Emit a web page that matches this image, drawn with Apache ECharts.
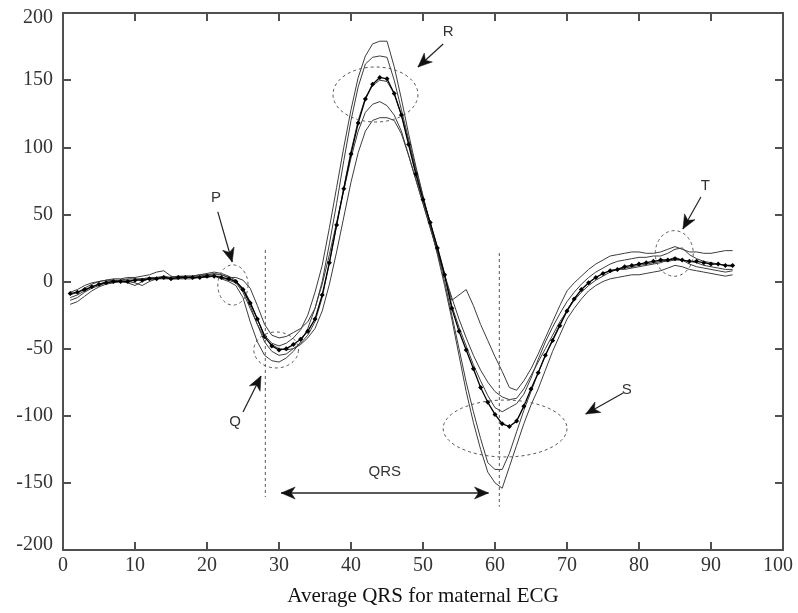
<!DOCTYPE html>
<html><head><meta charset="utf-8">
<script src="https://cdn.jsdelivr.net/npm/echarts@6/dist/echarts.min.js"></script>
<style>html,body{margin:0;padding:0;background:#fff}#c{width:798px;height:613px}</style>
</head><body><div id="c"></div>
<script>
// sample positions (x axis)
const xs = [1,2,3,4,5,6,7,8,9,10,11,12,13,14,15,16,17,18,19,20,21,22,23,24,25,26,27,28,29,30,
31,32,33,34,35,36,37,38,39,40,41,42,43,44,45,46,47,48,49,50,51,52,53,54,55,56,57,58,59,60,
61,62,63,64,65,66,67,68,69,70,71,72,73,74,75,76,77,78,79,80,81,82,83,84,85,86,87,88,89,90,91,92,93];

// average (black line with markers)
const mean = [
-9,-8,-6,-4,-2,-1,0,0,0,1,
1,2,2,3,2,3,3,3,3,4,
4,3,2,0,-6,-16,-28,-41,-48,-51,
-50,-47,-43,-37,-28,-10,14,42,69,95,
118,136,147,152,151,140,124,102,80,61,
44,25,5,-20,-37,-51,-65,-79,-90,-99,
-106,-108,-104,-93,-80,-68,-55,-44,-33,-22,
-13,-6,-1,3,6,8,9,11,12,13,
14,15,16,16,17,16,15,15,14,13,
13,12,12];

const beat1 = [
-12,-10,-7,-4,-2,0,1,1,2,2,
2,3,3,3,3,4,4,4,5,5,
6,5,3,0,-5,-15,-28,-40,-46,-48,
-46,-42,-36,-25,-8,12,40,70,100,128,
152,168,177,179,179,160,136,110,86,64,
43,22,0,-25,-50,-75,-97,-117,-135,-140,
-140,-128,-112,-96,-82,-68,-55,-43,-32,-21,
-13,-6,-1,3,6,8,9,9,10,11,
12,13,14,16,18,16,13,11,10,9,
8,7,8];

const beat2 = [
-17,-15,-11,-7,-4,-2,-1,0,0,-1,
-3,0,2,3,2,2,3,3,3,4,
4,2,0,-3,-12,-30,-45,-55,-59,-60,
-57,-52,-45,-35,-20,0,28,58,90,120,
145,162,167,168,167,150,128,106,84,63,
42,20,-3,-28,-55,-82,-105,-125,-142,-150,
-154,-138,-122,-106,-92,-80,-66,-52,-40,-28,
-20,-13,-7,-3,0,2,3,4,5,5,
6,7,8,10,12,11,9,8,7,6,
5,4,5];

const beat3 = [
-8,-6,-3,-1,0,1,2,2,3,3,
4,5,7,8,4,3,4,4,5,6,
7,6,4,1,-6,-18,-32,-45,-52,-55,
-54,-50,-46,-40,-30,-12,14,42,70,97,
120,137,146,150,149,140,124,104,82,62,
44,26,6,-18,-34,-48,-62,-74,-85,-94,
-97,-94,-91,-84,-72,-58,-45,-34,-24,-15,
-8,-2,3,7,10,13,15,16,17,18,
18,19,19,21,24,25,20,17,15,14,
13,12,11];

const beat4 = [
-10,-8,-5,-2,0,1,1,0,-1,-3,
0,2,3,4,3,4,3,3,4,5,
5,5,3,3,1,-5,-18,-32,-40,-42,
-41,-38,-35,-30,-20,-2,20,44,68,92,
112,126,132,134,131,124,112,94,76,58,
40,22,4,-14,-10,-6,-18,-32,-44,-56,
-67,-79,-81,-74,-65,-54,-42,-30,-18,-7,
-1,4,9,13,16,19,20,21,22,22,
21,21,22,24,26,24,22,22,21,21,
22,23,23];

const beat5 = [
-14,-12,-8,-5,-3,-1,0,1,1,1,
2,2,2,2,2,2,2,2,3,3,
4,3,1,-1,-8,-20,-32,-42,-47,-50,
-51,-50,-47,-42,-35,-22,-2,22,48,74,
96,112,120,122,122,120,110,94,76,58,
40,22,5,-12,-28,-42,-55,-66,-75,-82,
-86,-88,-87,-80,-70,-60,-50,-40,-30,-22,
-14,-8,-3,1,4,7,9,10,11,12,
13,14,15,15,16,16,15,14,12,11,
10,9,9];

const beats = [beat1, beat2, beat3, beat4, beat5];
const xTicks = {min:0, max:100, interval:10};
const yTicks = {min:-200, max:200, interval:50};
const xTitle = 'Average QRS for maternal ECG';

// annotation geometry (data coordinates)
const ellipses = [
  {c:[23.6,-2.6], r:[2.1,15]},
  {c:[29.6,-51], r:[3.1,13.4]},
  {c:[43.4,139.3], r:[5.9,20.5]},
  {c:[84.9,20.9], r:[2.64,17]},
  {c:[61.4,-109.5], r:[8.6,21.2]}
];
const labels = [
  {t:'P', p:[21.25,62.2]}, {t:'Q', p:[23.9,-104.7]}, {t:'R', p:[53.5,185.8]},
  {t:'T', p:[89.2,71.1]}, {t:'S', p:[78.3,-80.8]}, {t:'QRS', p:[44.7,-141.9]}
];
const arrows = [
  {f:[21.5,51.8], t:[23.5,14.5]},
  {f:[25,-97.2], t:[27.5,-70.4]},
  {f:[52.8,176.9], t:[49.3,159.8]},
  {f:[88.6,62.9], t:[86.1,39.1]},
  {f:[77.8,-83.1], t:[72.6,-98.7]}
];
const vlines = [{x:28.1, y:[23.5,-160.5]}, {x:60.6, y:[21.2,-167.7]}];
const qrsSpan = {y:-157.5, x:[30.3,59.1]};

const chart = echarts.init(document.getElementById('c'));
const serif = '"Liberation Serif", "Times New Roman", serif';
const fs = 20;
const frame = {color:'#505050', width:2};
const series = beats.map((b,k)=>({
  type:'line', name:'beat'+(k+1), data: xs.map((x,i)=>[x,b[i]]),
  showSymbol:false, symbol:'none', lineStyle:{color:'#3c3c3c', width:1}, z:2
}));
series.push({
  type:'line', name:'mean', data: xs.map((x,i)=>[x,mean[i]]),
  symbol:'diamond', symbolSize:5, showSymbol:true,
  itemStyle:{color:'#000'}, lineStyle:{color:'#000', width:1.3}, z:3
});
const lab = {fontFamily:serif, fontSize:fs, color:'#333'};
chart.setOption({
  animation:false,
  grid:{left:63, right:15, top:13, bottom:63, containLabel:false, outerBoundsMode:'none'},
  xAxis:[{
    type:'value', min:xTicks.min, max:xTicks.max, interval:xTicks.interval,
    name:xTitle, nameLocation:'middle', nameGap:36,
    nameTextStyle:{fontFamily:serif, fontSize:21, color:'#111'},
    axisLine:{show:true, onZero:false, lineStyle:frame},
    axisTick:{show:true, inside:true, length:8, lineStyle:frame},
    axisLabel:Object.assign({margin:6,
      formatter:v=> v===xTicks.max ? '{e|'+v+'}' : String(v),
      rich:{e:Object.assign({padding:[0,10,0,0]}, lab)}}, lab),
    splitLine:{show:false}
  },{
    type:'value', position:'top', min:xTicks.min, max:xTicks.max, interval:xTicks.interval,
    axisLine:{show:true, onZero:false, lineStyle:frame},
    axisTick:{show:true, inside:true, length:8, lineStyle:frame},
    axisLabel:{show:false}, splitLine:{show:false}
  }],
  yAxis:[{
    type:'value', min:yTicks.min, max:yTicks.max, interval:yTicks.interval,
    axisLine:{show:true, onZero:false, lineStyle:frame},
    axisTick:{show:true, inside:true, length:8, lineStyle:frame},
    axisLabel:Object.assign({margin:10,
      formatter:v=> v===yTicks.max ? '{t|'+v+'}' : (v===yTicks.min ? '{b|'+v+'}' : String(v)),
      rich:{t:Object.assign({padding:[10,0,0,0]}, lab), b:Object.assign({padding:[0,0,10,0]}, lab)}}, lab),
    splitLine:{show:false}
  },{
    type:'value', position:'right', min:yTicks.min, max:yTicks.max, interval:yTicks.interval,
    axisLine:{show:true, onZero:false, lineStyle:frame},
    axisTick:{show:true, inside:true, length:8, lineStyle:frame},
    axisLabel:{show:false}, splitLine:{show:false}
  }],
  series: series
});

function P(p){ return chart.convertToPixel({xAxisIndex:0, yAxisIndex:0}, p); }
const g = [];
ellipses.forEach(e=>{
  const c = P(e.c), ex = P([e.c[0]+e.r[0], e.c[1]]), ey = P([e.c[0], e.c[1]+e.r[1]]);
  const rx = Math.abs(ex[0]-c[0]), ry = Math.abs(ey[1]-c[1]);
  const pts = [];
  for (let k=0;k<72;k++){ const a = k/72*Math.PI*2; pts.push([c[0]+rx*Math.cos(a), c[1]+ry*Math.sin(a)]); }
  g.push({type:'polygon', shape:{points:pts}, style:{stroke:'#555', lineWidth:1, lineDash:[3,3], fill:'none'}, z:10, silent:true});
});
vlines.forEach(v=>{
  const a = P([v.x, v.y[0]]), b = P([v.x, v.y[1]]);
  g.push({type:'line', shape:{x1:a[0], y1:a[1], x2:b[0], y2:b[1]}, style:{stroke:'#555', lineWidth:1, lineDash:[3,3]}, z:10, silent:true});
});
function head(tip, from){
  const dx = tip[0]-from[0], dy = tip[1]-from[1], L = Math.hypot(dx,dy);
  const ux = dx/L, uy = dy/L, nx = -uy, ny = ux;
  const len = 14, w = 6, notch = 10;
  return {type:'polygon', shape:{points:[
    [tip[0], tip[1]],
    [tip[0]-ux*len+nx*w, tip[1]-uy*len+ny*w],
    [tip[0]-ux*notch, tip[1]-uy*notch],
    [tip[0]-ux*len-nx*w, tip[1]-uy*len-ny*w]
  ]}, style:{fill:'#111', stroke:'#111', lineWidth:0.5}, z:11, silent:true};
}
arrows.forEach(a=>{
  const f = P(a.f), t = P(a.t);
  g.push({type:'line', shape:{x1:f[0], y1:f[1], x2:t[0], y2:t[1]}, style:{stroke:'#222', lineWidth:1.2}, z:11, silent:true});
  g.push(head(t, f));
});
{
  const a = P([qrsSpan.x[0], qrsSpan.y]), b = P([qrsSpan.x[1], qrsSpan.y]);
  g.push({type:'line', shape:{x1:a[0], y1:a[1], x2:b[0], y2:b[1]}, style:{stroke:'#222', lineWidth:1.5}, z:11, silent:true});
  g.push(head(a, b)); g.push(head(b, a));
}
labels.forEach(l=>{
  const p = P(l.p);
  g.push({type:'text', x:p[0], y:p[1], style:{text:l.t, fill:'#333', fontFamily:'"Liberation Sans", Arial, sans-serif', fontSize:l.t==='QRS'?15:15, align:'center', verticalAlign:'middle'}, z:12, silent:true});
});
chart.setOption({graphic:{elements:g}});
</script>
</body></html>
